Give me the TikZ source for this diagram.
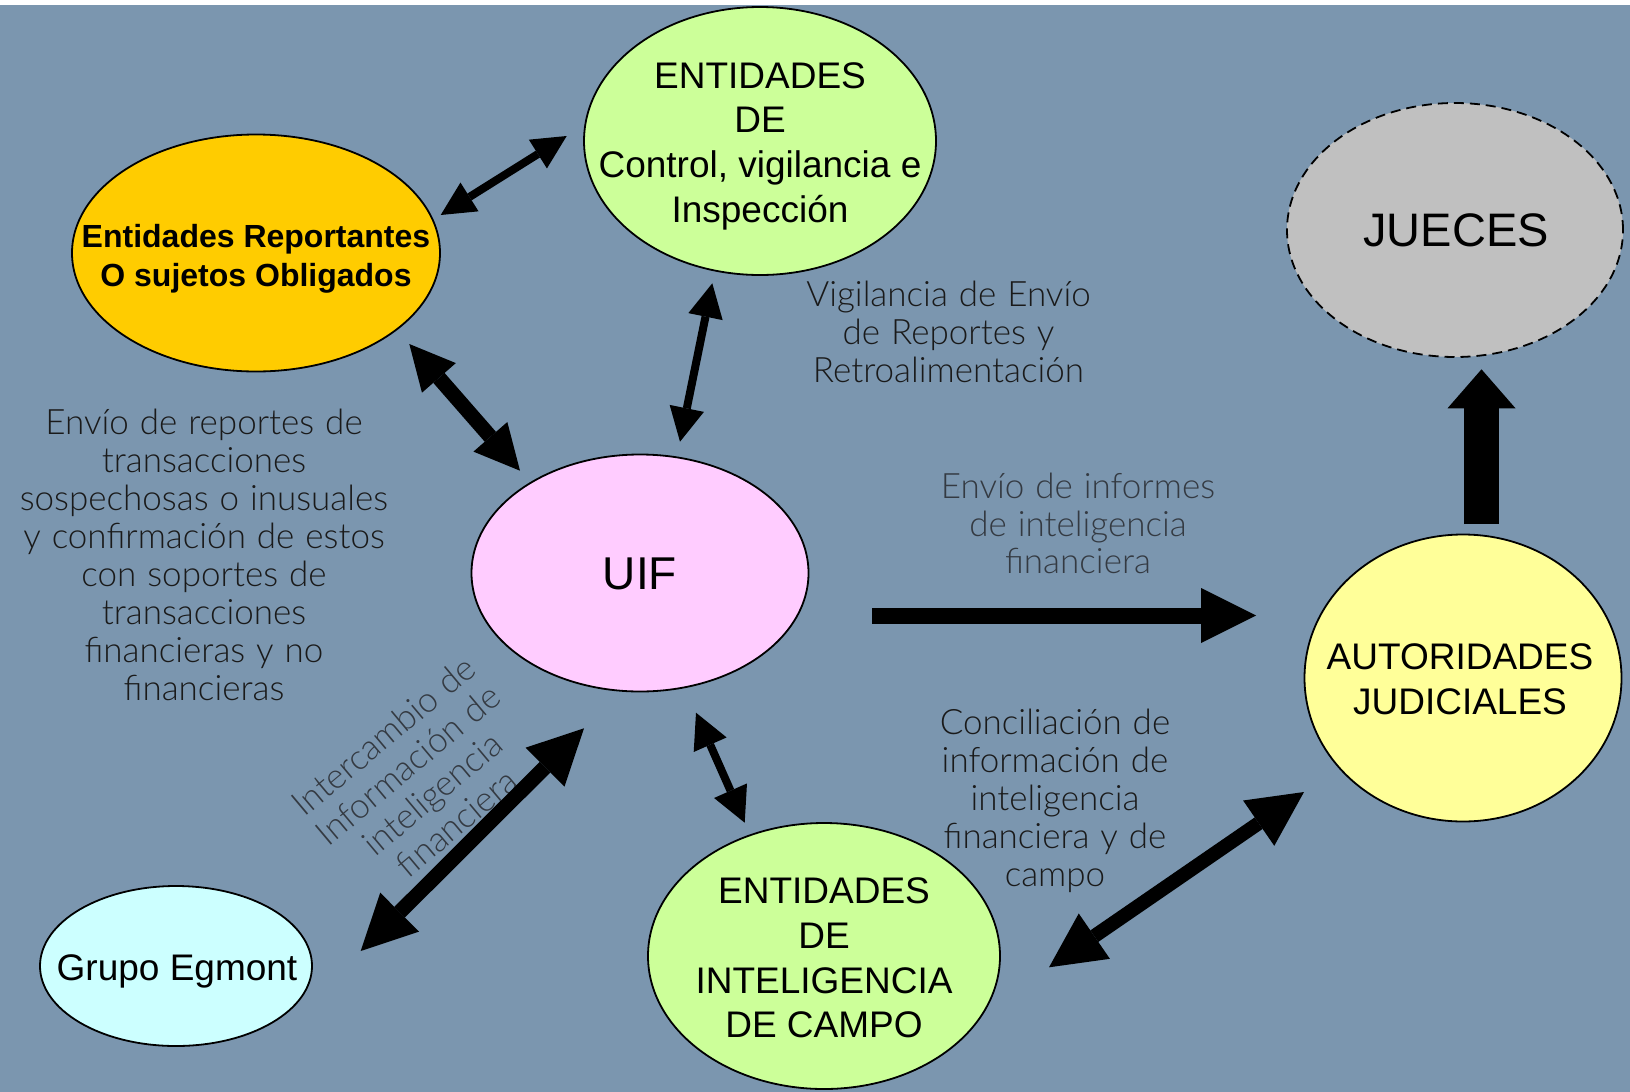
\documentclass[tikz,border=0pt]{standalone}
\usepackage{fontspec}
\setmainfont{Liberation Sans}
\newfontfamily\thinfont[WordSpace=1.15]{Lato Light}
\usetikzlibrary{shapes.geometric,arrows.meta}
\definecolor{bg}{RGB}{123,150,175}
\definecolor{cgreen}{HTML}{CCFF99}
\definecolor{corange}{HTML}{FFCC00}
\definecolor{cgray}{HTML}{C0C0C0}
\definecolor{cpink}{HTML}{FFCCFF}
\definecolor{cyellow}{HTML}{FFFF99}
\definecolor{ccyan}{HTML}{CCFFFF}
\definecolor{labdark}{HTML}{1A1A1A}
\definecolor{labgray}{HTML}{343A42}
\tikzset{
  ell/.style={shape=ellipse, draw=black, line width=1.8pt, inner sep=0pt},
  big/.style={font=\fontsize{37}{44.7}\selectfont, align=center, inner sep=0pt},
  lab/.style={font=\thinfont\fontsize{35}{37.9}\selectfont, align=center, inner sep=0pt, text=labdark},
  conn/.style n args={3}{draw=black, line width=#1, >={Triangle[length=#2,width=#3,line width=0pt]}},
}
\begin{document}
\begin{tikzpicture}[x=1pt,y=-1pt]
\fill[white] (0,0) rectangle (1630,1092);
\fill[bg] (0,4.5) rectangle (1630,1092);
\useasboundingbox (0,0) rectangle (1630,1092);

% ellipses
\node[ell, fill=cgreen, minimum width=352pt, minimum height=268pt] (ctrl) at (760,141) {};
\node[ell, fill=corange, minimum width=368pt, minimum height=237pt] (rep) at (256,253) {};
\node[ell, fill=cgray, dashed, dash pattern=on 10pt off 6pt, minimum width=336pt, minimum height=254pt] (jue) at (1455,230) {};
\node[ell, fill=cpink, minimum width=337pt, minimum height=237pt] (uif) at (640,573) {};
\node[ell, fill=cyellow, minimum width=317pt, minimum height=287pt] (aut) at (1463,678) {};
\node[ell, fill=cgreen, minimum width=352pt, minimum height=266pt] (camp) at (824,956) {};
\node[ell, fill=ccyan, minimum width=272pt, minimum height=160pt] (egm) at (176,966) {};

% ellipse texts
\node[big] (ctrlt) at (760,146) {ENTIDADES\\DE\\Control, vigilancia e\\Inspección};
\node[big, font=\bfseries\fontsize{32}{38.5}\selectfont] (rept) at (256,258.6) {Entidades Reportantes\\O sujetos Obligados};
\node[big, font=\fontsize{47}{56}\selectfont] (juet) at (1456,230) {JUECES};
\node[big, font=\fontsize{46}{55}\selectfont] (uift) at (640,574) {UIF};
\node[big] (autt) at (1460,679.4) {AUTORIDADES\\JUDICIALES};
\node[big] (campt) at (824,958) {ENTIDADES\\DE\\INTELIGENCIA\\DE CAMPO};
\node[big] (egmt) at (177,971) {Grupo Egmont};

% labels
\node[lab] (vig) at (948.5,332) {Vigilancia de Envío\\de Reportes y\\Retroalimentación};
\node[lab] (env) at (204,555) {Envío de reportes de\\transacciones\\sospechosas o inusuales\\y confirmación de estos\\con soportes de\\transacciones\\financieras y no\\financieras};
\node[lab, text=labgray] (inf) at (1078,523.5) {Envío de informes\\de inteligencia\\financiera};
\node[lab] (con) at (1055,801) {Conciliación de\\información de\\inteligencia\\financiera y de\\campo};
\node[lab, text=labgray, rotate=40] (int) at (420,779) {Intercambio de\\Información de\\inteligencia\\financiera};

% arrow end points
\coordinate (a1) at (440.7,215);   \coordinate (a2) at (566.7,136);
\coordinate (b1) at (409.3,344);   \coordinate (b2) at (520,470.7);
\coordinate (c1) at (712.3,283.3); \coordinate (c2) at (680,441.7);
\coordinate (d1) at (872,615.5);   \coordinate (d2) at (1256,615.5);
\coordinate (e1) at (1481.5,524);  \coordinate (e2) at (1481.5,369.3);
\coordinate (f1) at (584,728.3);   \coordinate (f2) at (360.7,951);
\coordinate (g1) at (696,712.7);   \coordinate (g2) at (744.7,822.7);
\coordinate (h1) at (1304,792);    \coordinate (h2) at (1049,967.3);

\draw[conn={8pt}{34pt}{34pt}, <->] (a1) -- (a2);
\draw[conn={15pt}{45pt}{45pt}, <->] (b1) -- (b2);
\draw[conn={8pt}{34pt}{35pt}, <->] (c1) -- (c2);
\draw[conn={16pt}{55pt}{55pt}, ->] (d1) -- (d2);
\draw[conn={35pt}{39pt}{68pt}, ->] (e1) -- (e2);
\draw[conn={15pt}{55pt}{55pt}, <->] (f1) -- (f2);
\draw[conn={8pt}{35pt}{36pt}, <->] (g1) -- (g2);
\draw[conn={14pt}{55pt}{55pt}, <->] (h1) -- (h2);
\end{tikzpicture}
\end{document}
